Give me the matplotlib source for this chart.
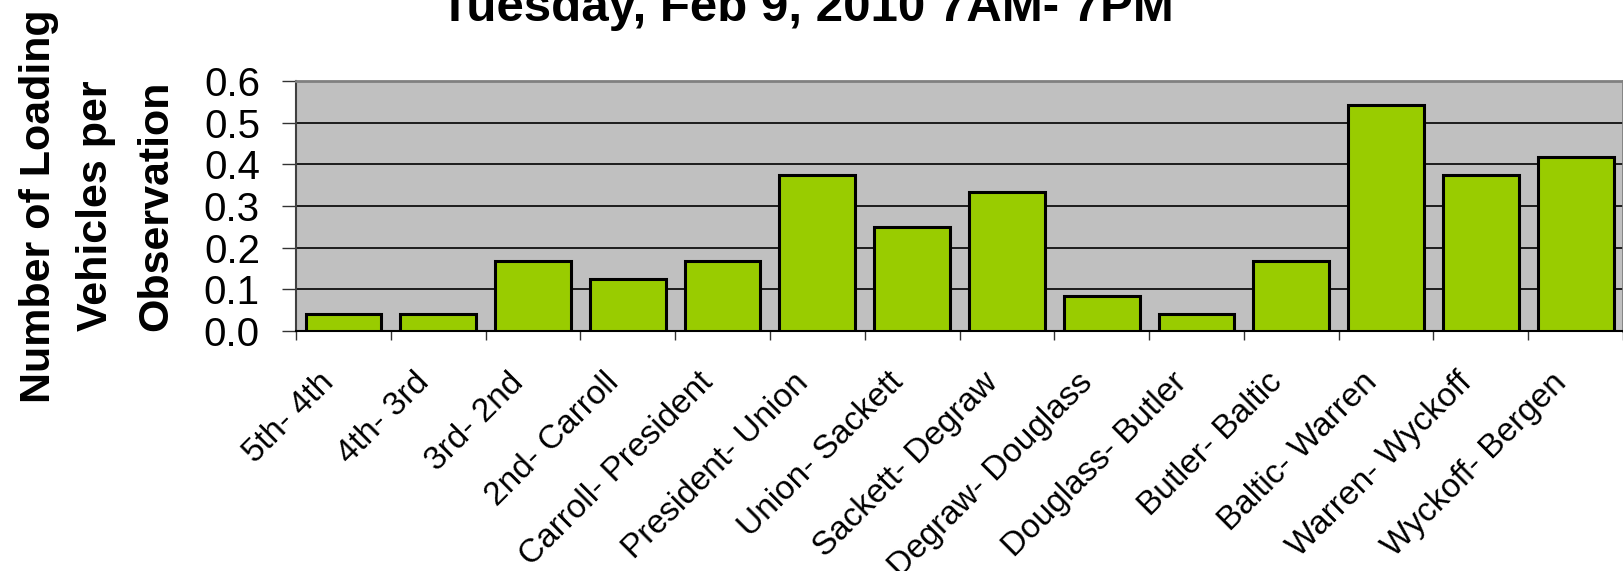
import matplotlib
matplotlib.use("Agg")
import matplotlib.pyplot as plt
import matplotlib.transforms as mtransforms
import numpy as np
from matplotlib.ticker import FormatStrFormatter

# loading vehicles per observation, by block segment
segments = ['5th- 4th', '4th- 3rd', '3rd- 2nd', '2nd- Carroll', 'Carroll- President',
            'President- Union', 'Union- Sackett', 'Sackett- Degraw', 'Degraw- Douglass',
            'Douglass- Butler', 'Butler- Baltic', 'Baltic- Warren', 'Warren- Wyckoff',
            'Wyckoff- Bergen']
loads = [0.042, 0.042, 0.167, 0.125, 0.167, 0.375, 0.250, 0.333, 0.083, 0.042,
         0.167, 0.542, 0.375, 0.417]
yticks = [0.0, 0.1, 0.2, 0.3, 0.4, 0.5, 0.6]
ylabel_lines = ['Number of Loading', 'Vehicles per', 'Observation']

plt.rcParams['font.family'] = ['Liberation Sans', 'DejaVu Sans']

W, H = 1624, 571
fig = plt.figure(figsize=(W / 100, H / 100), dpi=100)
ax = fig.add_axes([0.1823, 0.4203, 0.8171, 0.4378])
ax.set_facecolor('#C0C0C0')

x = np.arange(len(segments))
ax.bar(x, loads, width=0.8, color='#99CC00', edgecolor='black', linewidth=2.2, zorder=3)

ax.set_xlim(-0.5, len(segments) - 0.5)
ax.set_ylim(0, 0.6)
ax.set_yticks(yticks)
ax.yaxis.set_major_formatter(FormatStrFormatter('%.1f'))
ax.yaxis.grid(True, color='black', linewidth=1.2, zorder=1)
ax.set_axisbelow(True)

# labels hang off their baseline's right end, a little under the axis
ax.set_xticks(x)
ax.set_xticklabels(segments, rotation=45, ha='right', va='baseline',
                   rotation_mode='anchor', fontsize=24)
ax.tick_params(axis='x', which='major', length=0, pad=38)
shift = mtransforms.ScaledTranslation(-0.08, 0, fig.dpi_scale_trans)
for lab in ax.get_xticklabels():
    lab.set_transform(lab.get_transform() + shift)
# tick marks sit between the bars
ax.set_xticks(np.arange(-0.5, len(segments), 1), minor=True)
ax.tick_params(axis='x', which='minor', length=6.5, width=1, color='#333333')
ax.tick_params(axis='y', length=10, width=1, pad=16, labelsize=29, color='#333333')

for s in ['top', 'right']:
    ax.spines[s].set_color('#808080')
    ax.spines[s].set_linewidth(2)
ax.spines['left'].set_color('#404040')
ax.spines['left'].set_linewidth(1.5)
ax.spines['bottom'].set_color('black')
ax.spines['bottom'].set_linewidth(1.5)

# y label, three lines, baselines measured in pixels from the left
for line, bx in zip(ylabel_lines, [50, 107, 167]):
    fig.text(bx / W, 1 - 206 / H, line, rotation=90, rotation_mode='anchor',
             ha='center', va='baseline', fontsize=31, fontweight='bold')

fig.text(0.497, 0.963, 'Tuesday, Feb 9, 2010 7AM- 7PM', ha='center', va='baseline',
         fontsize=35.5, fontweight='bold')

fig.savefig('out.png', dpi=100)
